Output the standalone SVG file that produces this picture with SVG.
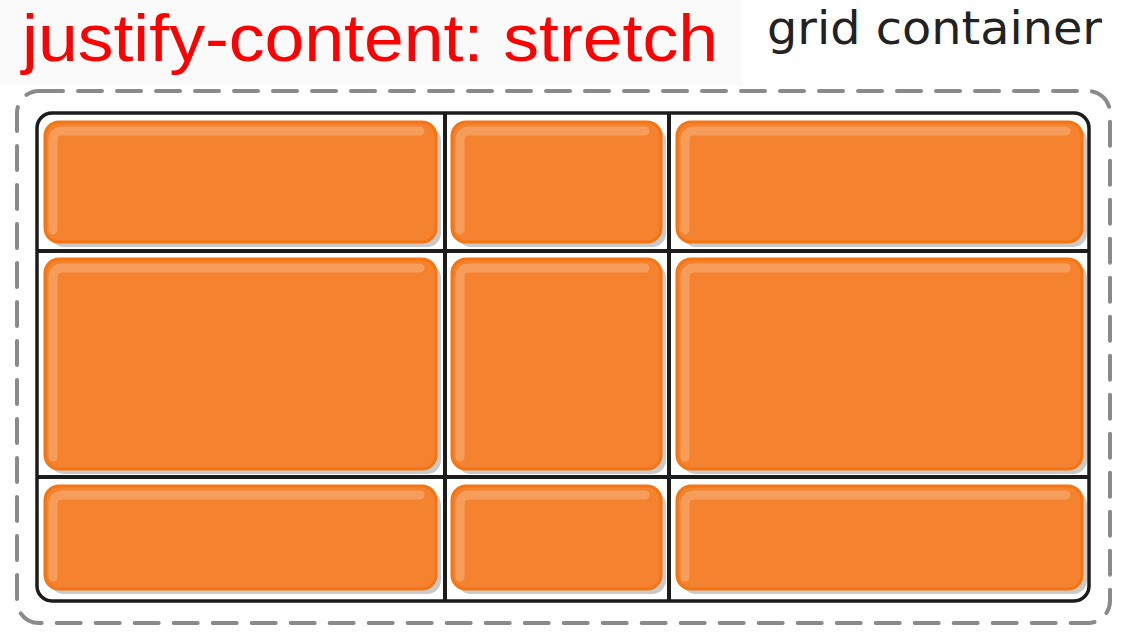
<svg xmlns="http://www.w3.org/2000/svg" width="1126" height="638" viewBox="0 0 1126 638">
  <defs>
    <style>
      .title { font-family: "Liberation Sans", Arial, sans-serif; font-size: 67px; fill: #ff0000; }
      .label { font-family: "DejaVu Sans", "Noto Sans", sans-serif; font-size: 47px; fill: #222222; }
      .outer { fill: none; stroke: #8a8a8a; stroke-width: 4; stroke-dasharray: 24 15; stroke-linecap: round; }
      .box { fill: none; stroke: #1c1c1c; stroke-width: 3.5; }
      .gl { stroke: #1c1c1c; stroke-width: 4; }
      .shadow { fill: #c9c9c9; }
      .item { fill: #f4822f; stroke: #f47512; stroke-width: 3; }
      .hl { fill: none; stroke: #f8a466; stroke-width: 9; stroke-linecap: round; stroke-linejoin: round; opacity: 0.8; }
    </style>
  </defs>
  <rect x="0" y="0" width="1126" height="638" fill="#ffffff"/>
  <rect x="0" y="0" width="742" height="85" fill="#fafafa"/>

  <text class="title" x="22" y="61" textLength="696" lengthAdjust="spacingAndGlyphs">justify-content: stretch</text>
  <text class="label" x="767" y="44" textLength="335" lengthAdjust="spacingAndGlyphs">grid container</text>

  <rect class="outer" x="17" y="91" width="1093" height="532" rx="22"/>
  <rect class="box" x="37" y="113" width="1052" height="488" rx="15"/>

  <g id="grid-lines">
    <line class="gl" x1="445" y1="113" x2="445" y2="601"/>
    <line class="gl" x1="669" y1="113" x2="669" y2="601"/>
    <line class="gl" x1="37" y1="251" x2="1089" y2="251"/>
    <line class="gl" x1="37" y1="477" x2="1089" y2="477"/>
  </g>

  <g id="item-1">
    <rect class="shadow" x="50" y="127" width="391" height="120" rx="14"/>
    <rect class="item" x="45" y="122" width="391" height="120" rx="14"/>
    <path class="hl" d="M53 230 V140 Q53 131 63 131 H420"/>
  </g>
  <g id="item-2">
    <rect class="shadow" x="457" y="127" width="209" height="120" rx="14"/>
    <rect class="item" x="452" y="122" width="209" height="120" rx="14"/>
    <path class="hl" d="M460 230 V140 Q460 131 470 131 H645"/>
  </g>
  <g id="item-3">
    <rect class="shadow" x="682" y="127" width="405" height="120" rx="14"/>
    <rect class="item" x="677" y="122" width="405" height="120" rx="14"/>
    <path class="hl" d="M685 230 V140 Q685 131 695 131 H1066"/>
  </g>

  <g id="item-4">
    <rect class="shadow" x="50" y="264" width="391" height="210" rx="14"/>
    <rect class="item" x="45" y="259" width="391" height="210" rx="14"/>
    <path class="hl" d="M53 457 V277 Q53 268 63 268 H420"/>
  </g>
  <g id="item-5">
    <rect class="shadow" x="457" y="264" width="209" height="210" rx="14"/>
    <rect class="item" x="452" y="259" width="209" height="210" rx="14"/>
    <path class="hl" d="M460 457 V277 Q460 268 470 268 H645"/>
  </g>
  <g id="item-6">
    <rect class="shadow" x="682" y="264" width="405" height="210" rx="14"/>
    <rect class="item" x="677" y="259" width="405" height="210" rx="14"/>
    <path class="hl" d="M685 457 V277 Q685 268 695 268 H1066"/>
  </g>

  <g id="item-7">
    <rect class="shadow" x="50" y="491" width="391" height="103" rx="14"/>
    <rect class="item" x="45" y="486" width="391" height="103" rx="14"/>
    <path class="hl" d="M53 577 V504 Q53 495 63 495 H420"/>
  </g>
  <g id="item-8">
    <rect class="shadow" x="457" y="491" width="209" height="103" rx="14"/>
    <rect class="item" x="452" y="486" width="209" height="103" rx="14"/>
    <path class="hl" d="M460 577 V504 Q460 495 470 495 H645"/>
  </g>
  <g id="item-9">
    <rect class="shadow" x="682" y="491" width="405" height="103" rx="14"/>
    <rect class="item" x="677" y="486" width="405" height="103" rx="14"/>
    <path class="hl" d="M685 577 V504 Q685 495 695 495 H1066"/>
  </g>
</svg>
